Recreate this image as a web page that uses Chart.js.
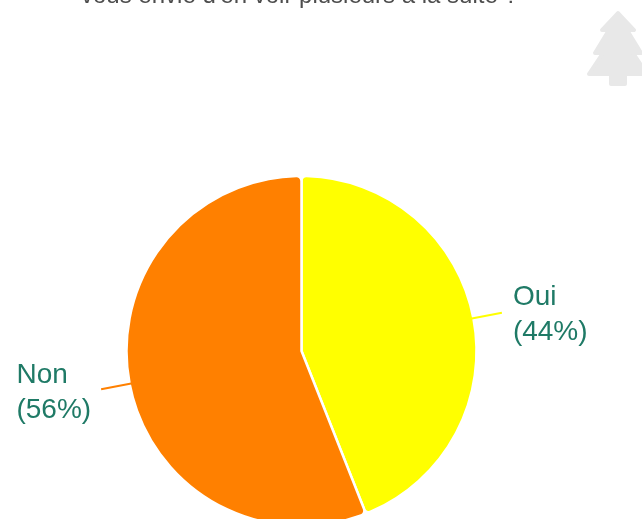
<!DOCTYPE html>
<html lang="fr">
<head>
<meta charset="utf-8">
<title>Sondage</title>
<script src="https://cdn.jsdelivr.net/npm/chart.js@4/dist/chart.umd.min.js"></script>
<style>
  html,body{margin:0;padding:0;background:#fff;width:642px;height:519px;overflow:hidden}
  #wrap{position:relative;width:642px;height:519px;overflow:hidden}
  #pie{position:absolute;left:0;top:0}
  #tree{position:absolute;left:583px;top:8px}
</style>
</head>
<body>
<div id="wrap">
  <canvas id="pie" width="642" height="702"></canvas>
  <svg id="tree" width="59" height="82" viewBox="0 0 59 82">
    <path d="M35 5 L51 22 H44 L58 45 H50 L64 66 H42 V76 H28 V66 H6 L20 45 H12 L26 22 H19 Z"
      fill="#e8e8e8" stroke="#e8e8e8" stroke-width="4" stroke-linejoin="round"/>
  </svg>
</div>
<script>
const titleLine = "vous envie d'en voir plusieurs à la suite ?";
const categories = ["Oui", "Non"];
const shares = [44, 56];
const colors = ["#ffff00", "#ff8000"];

// Libellés + traits de rappel, calés sur les arcs du graphique
const outerLabels = {
  id: "outerLabels",
  afterDatasetsDraw(chart) {
    const ctx = chart.ctx;
    ctx.save();
    ctx.font = "400 24px 'Liberation Sans', Arial, sans-serif";
    ctx.fillStyle = "#4d4d4d";
    ctx.textAlign = "left";
    ctx.textBaseline = "alphabetic";
    ctx.fillText(titleLine, 81, 3);

    ctx.font = "400 28px 'Liberation Sans', Arial, sans-serif";
    chart.getDatasetMeta(0).data.forEach((arc, i) => {
      const a = (arc.startAngle + arc.endAngle) / 2;
      const r = arc.outerRadius;
      const x1 = arc.x + Math.cos(a) * (r - 3), y1 = arc.y + Math.sin(a) * (r - 3);
      const x2 = arc.x + Math.cos(a) * (r + 29), y2 = arc.y + Math.sin(a) * (r + 29);
      ctx.strokeStyle = colors[i];
      ctx.lineWidth = 2;
      ctx.beginPath();
      ctx.moveTo(x1, y1);
      ctx.lineTo(x2, y2);
      ctx.stroke();

      const lines = [categories[i], `(${shares[i]}%)`];
      const w = Math.max(...lines.map(l => ctx.measureText(l).width));
      const right = x2 > arc.x;
      const tx = right ? x2 + 11 : x2 - 10 - w;
      const ty = y2 + (right ? -8 : -6);
      ctx.fillStyle = "#1f7a66";
      lines.forEach((l, k) => ctx.fillText(l, tx, ty + k * 35));
    });
    ctx.restore();
  }
};

new Chart(document.getElementById("pie"), {
  type: "pie",
  data: {
    labels: categories,
    datasets: [{
      data: shares,
      backgroundColor: colors,
      borderColor: "#ffffff",
      borderWidth: 2.5,
      borderRadius: 5,
      radius: 175
    }]
  },
  options: {
    responsive: false,
    animation: false,
    layout: { padding: { left: 0, right: 39, top: 0, bottom: 0 } },
    plugins: { legend: { display: false }, tooltip: { enabled: false }, title: { display: false } }
  },
  plugins: [outerLabels]
});
</script>
</body>
</html>
